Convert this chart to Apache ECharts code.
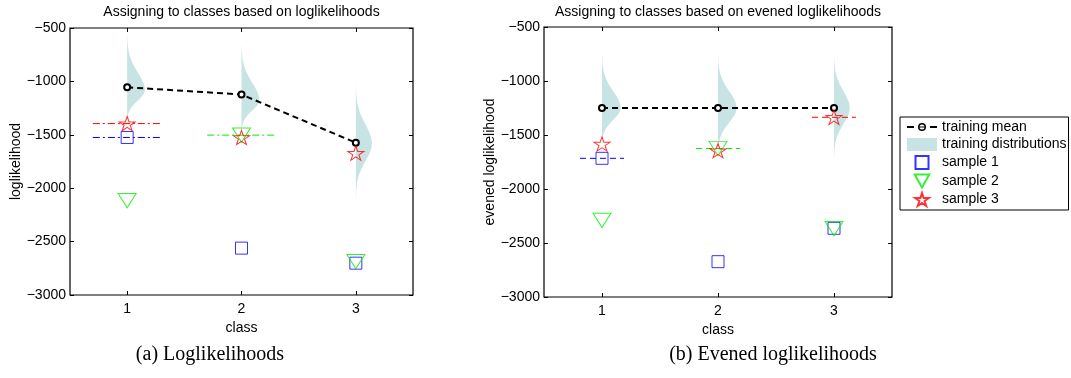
<!DOCTYPE html>
<html>
<head>
<meta charset="utf-8">
<script src="https://cdn.jsdelivr.net/npm/echarts@6/dist/echarts.min.js"></script>
<style>
  html, body { margin: 0; padding: 0; background: #fff; }
  #chart { width: 1071px; height: 378px; }
</style>
</head>
<body>
<div id="chart"></div>
<script>
// ---- data ----------------------------------------------------------
const classes = [1, 2, 3];
const yTicks = [-3000, -2500, -2000, -1500, -1000, -500];

// (a) loglikelihoods
const rawMean = [-1055, -1123, -1574];
const rawDistMode = [-1083, -1177, -1580];
const rawDistSdUp = [165, 165, 175];
const rawDistSdDown = [95, 95, 165];
const rawDistPeak = [0.155, 0.155, 0.14];
const rawSample1 = [-1525, -2561, -2702];
const rawSample2 = [-2117, -1503, -2688];
const rawSample3 = [-1395, -1525, -1672];

// (b) evened loglikelihoods
const evMean = [-1250, -1250, -1250];
const evDistMode = [-1250, -1250, -1250];
const evDistSdUp = [155, 155, 155];
const evDistSdDown = [110, 134, 147];
const evDistPeak = [0.16, 0.16, 0.135];
const evSample1 = [-1716, -2673, -2364];
const evSample2 = [-2290, -1625, -2367];
const evSample3 = [-1583, -1645, -1336];

// ---- styling ---------------------------------------------------------
const FONT = 'Liberation Sans, Arial, Helvetica, sans-serif';
const SERIF = 'Liberation Serif, DejaVu Serif, serif';
const DIST_COLOR = '#c8e3e3';
const SAMPLE_COLORS = ['#0000ff', '#00ee00', '#ff0000'];

// marker shapes
const SQUARE = 'path://M0,0H10V10H0Z';
const TRI_DOWN = 'path://M0,0L18,0L9,16Z';
const STAR = (function () {
  const pts = [];
  for (let i = 0; i < 10; i++) {
    const a = (-90 + i * 36) * Math.PI / 180;
    const r = i % 2 ? 0.382 : 1;
    pts.push((10 + 10 * r * Math.cos(a)).toFixed(3) + ',' + (10 + 10 * r * Math.sin(a)).toFixed(3));
  }
  return 'path://M' + pts.join('L') + 'Z';
})();
// legend glyph for the mean: dash, ring with a bar through it, dash
const MEAN_ICON = 'path://M0,5.6H7V7.4H0Z M23,5.6H30V7.4H23Z M11,6H19V7H11Z ' +
  'M19,6.5A4,4 0 1,1 11,6.5A4,4 0 1,1 19,6.5Z M17.5,6.5A2.5,2.5 0 1,0 12.5,6.5A2.5,2.5 0 1,0 17.5,6.5Z';
const SAMPLE_SYMBOLS = [SQUARE, TRI_DOWN, STAR];
const SAMPLE_SIZES = [[12, 12], [18, 16], [16, 15]];

const minus = v => String(v).replace('-', '\u2212');

function zip(xs, ys) { return xs.map((x, i) => [x, ys[i]]); }

// horizontal marker at the best-scoring class of a sample
function assignedLine(values, halfWidth) {
  let best = 0;
  values.forEach((v, i) => { if (v > values[best]) best = i; });
  const c = classes[best];
  return [[c - halfWidth, values[best]], [c + halfWidth, values[best]]];
}

function distSeries(axisIdx, mode, sdUp, sdDown, peak) {
  return {
    name: 'training distributions',
    type: 'custom',
    xAxisIndex: axisIdx, yAxisIndex: axisIdx,
    z: 1,
    itemStyle: { color: DIST_COLOR },
    data: classes.map((c, i) => [c, mode[i], sdUp[i], sdDown[i], peak[i]]),
    renderItem: function (params, api) {
      const x = api.value(0), m = api.value(1), su = api.value(2), sd = api.value(3), pk = api.value(4);
      const curve = [];
      for (let t = 3.2; t >= -3.2001; t -= 0.05) {
        const y = m + t * (t > 0 ? su : sd);
        const w = pk * Math.exp(-t * t / 2);
        curve.push(api.coord([x + w, y]));
      }
      const top = api.coord([x, m + 3.2 * su]);
      const bottom = api.coord([x, m - 3.2 * sd]);
      return {
        type: 'polygon',
        shape: { points: [top].concat(curve, [bottom]) },
        style: { fill: DIST_COLOR }
      };
    }
  };
}

function panelSeries(axisIdx, mean, dist, samples, lineHalf, lineDash) {
  const s = [];
  s.push(distSeries(axisIdx, dist[0], dist[1], dist[2], dist[3]));
  s.push({
    name: 'training mean',
    type: 'line',
    xAxisIndex: axisIdx, yAxisIndex: axisIdx,
    z: 3,
    data: zip(classes, mean),
    symbol: 'emptyCircle',
    symbolSize: 6,
    itemStyle: { color: '#000', borderColor: '#000', borderWidth: 1.6 },
    lineStyle: { color: '#000', width: 2, type: [6, 4] }
  });
  samples.forEach((vals, k) => {
    s.push({
      name: 'sample ' + (k + 1) + ' class',
      type: 'line',
      xAxisIndex: axisIdx, yAxisIndex: axisIdx,
      z: 2,
      data: assignedLine(vals, lineHalf),
      symbol: 'none',
      lineStyle: { color: SAMPLE_COLORS[k], width: 1, type: lineDash }
    });
  });
  samples.forEach((vals, k) => {
    s.push({
      name: 'sample ' + (k + 1),
      type: 'scatter',
      xAxisIndex: axisIdx, yAxisIndex: axisIdx,
      z: 4,
      data: zip(classes, vals),
      symbol: SAMPLE_SYMBOLS[k],
      symbolSize: SAMPLE_SIZES[k],
      symbolKeepAspect: true,
      itemStyle: { color: 'rgba(0,0,0,0)', borderColor: SAMPLE_COLORS[k], borderWidth: 1 }
    });
  });
  return s;
}

function xAxes(gridIndex) {
  const common = {
    type: 'value', gridIndex: gridIndex, min: 0.5, max: 3.5,
    splitLine: { show: false },
    axisLine: { show: false },
    axisTick: { show: true, inside: true, length: 4, customValues: classes, lineStyle: { color: '#000' } }
  };
  return [
    Object.assign({}, common, {
      position: 'bottom',
      name: 'class', nameLocation: 'middle', nameGap: 17,
      nameTextStyle: { color: '#000', fontSize: 14, fontFamily: FONT },
      axisLabel: { show: true, customValues: classes, margin: 7, color: '#000', fontSize: 14, fontFamily: FONT }
    }),
    Object.assign({}, common, { position: 'top', axisLabel: { show: false } })
  ];
}

function yAxes(gridIndex, label) {
  const common = {
    type: 'value', gridIndex: gridIndex, min: yTicks[0], max: yTicks[yTicks.length - 1],
    interval: yTicks[1] - yTicks[0],
    splitLine: { show: false },
    axisLine: { show: false },
    axisTick: { show: true, inside: true, length: 4, lineStyle: { color: '#000' } }
  };
  return [
    Object.assign({}, common, {
      position: 'left',
      name: label, nameLocation: 'middle', nameGap: 47,
      nameTextStyle: { color: '#000', fontSize: 14, fontFamily: FONT },
      axisLabel: { show: true, margin: 4, color: '#000', fontSize: 14, fontFamily: FONT, formatter: minus }
    }),
    Object.assign({}, common, { position: 'right', axisLabel: { show: false } })
  ];
}

const chart = echarts.init(document.getElementById('chart'), null, { renderer: 'canvas' });

chart.setOption({
  animation: false,
  backgroundColor: '#fff',
  textStyle: { fontFamily: FONT },
  grid: [
    { left: 70, top: 28, width: 343, height: 267, show: true, borderColor: '#000', borderWidth: 1.2, backgroundColor: '#fff' },
    { left: 544, top: 27, width: 348, height: 270, show: true, borderColor: '#000', borderWidth: 1.2, backgroundColor: '#fff' }
  ],
  xAxis: xAxes(0).concat(xAxes(1)),
  yAxis: yAxes(0, 'loglikelihood').concat(yAxes(1, 'evened loglikelihood')),
  legend: {
    orient: 'vertical',
    left: 900, top: 117,
    selectedMode: false,
    backgroundColor: '#fff',
    borderColor: '#000', borderWidth: 1,
    padding: [3, 2, 3, 7],
    itemWidth: 30, itemHeight: 13, itemGap: 3.5,
    textStyle: { color: '#000', fontSize: 14, fontFamily: FONT },
    data: [
      { name: 'training mean', icon: MEAN_ICON, itemStyle: { color: '#000', borderWidth: 0 } },
      { name: 'training distributions', icon: 'rect', itemStyle: { color: DIST_COLOR } },
      { name: 'sample 1' },
      { name: 'sample 2' },
      { name: 'sample 3' }
    ]
  },
  graphic: [
    { type: 'text', x: 241.5, y: 12, style: { text: 'Assigning to classes based on loglikelihoods', align: 'center', verticalAlign: 'middle', fontSize: 14, fontFamily: FONT, fill: '#000' } },
    { type: 'text', x: 718, y: 12, style: { text: 'Assigning to classes based on evened loglikelihoods', align: 'center', verticalAlign: 'middle', fontSize: 14, fontFamily: FONT, fill: '#000' } },
    { type: 'text', x: 210, y: 355, style: { text: '(a) Loglikelihoods', align: 'center', verticalAlign: 'middle', fontSize: 20, fontFamily: SERIF, fill: '#000' } },
    { type: 'text', x: 773, y: 355, style: { text: '(b) Evened loglikelihoods', align: 'center', verticalAlign: 'middle', fontSize: 20, fontFamily: SERIF, fill: '#000' } }
  ],
  series: []
    .concat(panelSeries(0, rawMean, [rawDistMode, rawDistSdUp, rawDistSdDown, rawDistPeak],
      [rawSample1, rawSample2, rawSample3], 0.3, [7, 3, 2, 3]))
    .concat(panelSeries(2, evMean, [evDistMode, evDistSdUp, evDistSdDown, evDistPeak],
      [evSample1, evSample2, evSample3], 0.19, [6, 4]))
});
</script>
</body>
</html>
